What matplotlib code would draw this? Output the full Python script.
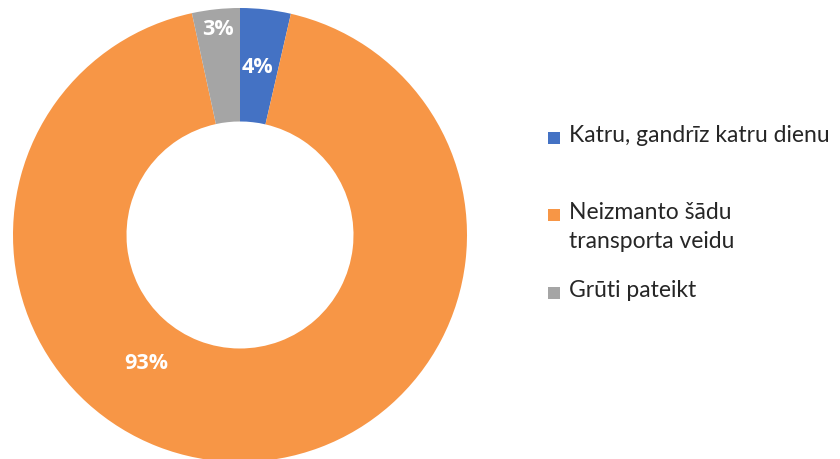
import numpy as np
import matplotlib.pyplot as plt
from matplotlib.patches import Rectangle

# data
categories = ['Katru, gandrīz katru dienu', 'Neizmanto šādu\ntransporta veidu', 'Grūti pateikt']
values = [3.6, 93.0, 3.4]
colors = ['#4472C4', '#F79646', '#A5A5A5']

# label placement (angle clockwise from top in deg, radius)
label_pos = [(5.8, 0.74), (216.0, 0.70), (-6.0, 0.91)]

plt.rcParams['font.family'] = ['Lato', 'DejaVu Sans']

fig = plt.figure(figsize=(8.4, 4.59), dpi=100)
ax = fig.add_axes([13 / 840, -3 / 459, 454 / 840, 454 / 459])

ax.pie(values, colors=colors, startangle=90, counterclock=False,
       wedgeprops=dict(width=0.5, edgecolor='none'), radius=1.0)
ax.set_xlim(-1, 1)
ax.set_ylim(-1, 1)
ax.set_aspect('equal')
ax.axis('off')

for v, (ang, r) in zip(values, label_pos):
    t = np.deg2rad(ang)
    ax.text(r * np.sin(t), r * np.cos(t), f'{v:.0f}%', color='white',
            fontsize=15.5, fontweight='bold', family=['Open Sans', 'DejaVu Sans'],
            ha='center', va='center')

# legend drawn by hand
leg_y = [138, 215, 293]
for cat, col, y in zip(categories, colors, leg_y):
    fig.patches.append(Rectangle((548 / 840, 1 - (y + 6) / 459), 12 / 840, 12 / 459,
                                 transform=fig.transFigure, facecolor=col,
                                 edgecolor='none'))
    fig.text(569 / 840, 1 - (y - 13) / 459, cat, fontsize=16.5, color='#262626',
             ha='left', va='top', linespacing=1.45)

fig.savefig('out.png', dpi=100)
